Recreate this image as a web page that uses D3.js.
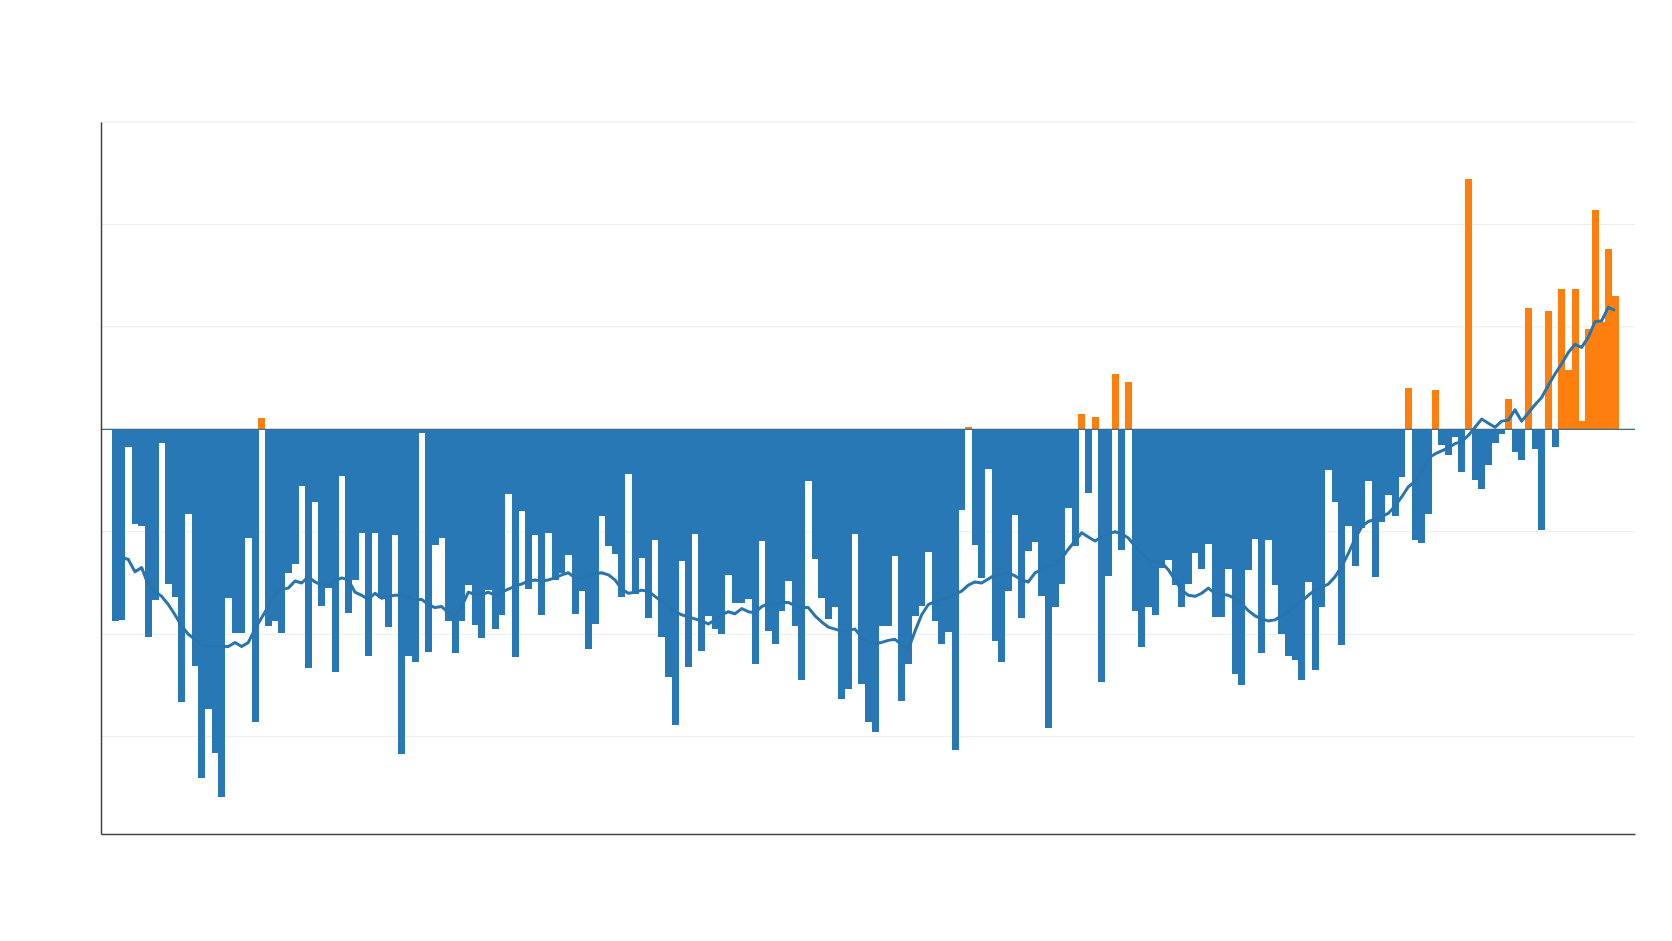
<!DOCTYPE html>
<html>
<head>
<meta charset="utf-8">
<script src="https://cdn.jsdelivr.net/npm/d3@7"></script>
<style>
    body { margin: 0; background: #ffffff; }
    svg { display: block; }
</style>
</head>
<body>
<svg id="anomaly-chart"></svg>
<script>
// one bar per year (no labels shown on the chart)
const years = d3.range(1798, 2024);

// yearly anomaly
const anomalies = [
    -1.87, -1.86, -0.17, -0.92, -0.94, -2.03, -1.67, -0.13, -1.51, -1.64,
    -2.66, -0.83, -2.31, -3.40, -2.73, -3.16, -3.59, -1.65, -1.99, -1.99,
    -1.06, -2.86, 0.11, -1.92, -1.87, -1.99, -1.40, -1.31, -0.55, -2.33,
    -0.71, -1.72, -1.55, -2.37, -0.46, -1.79, -1.47, -1.01, -2.21, -1.01,
    -1.65, -1.93, -1.03, -3.17, -2.21, -2.27, -0.04, -2.17, -1.13, -1.06,
    -1.87, -2.18, -1.87, -1.52, -1.91, -2.04, -1.57, -1.95, -1.81, -0.63,
    -2.22, -0.80, -1.56, -1.03, -1.81, -1.01, -1.47, -1.40, -1.23, -1.80,
    -1.58, -2.14, -1.90, -0.85, -1.14, -1.22, -1.64, -0.44, -1.61, -1.26,
    -1.84, -1.08, -2.03, -2.42, -2.89, -1.29, -2.32, -1.02, -2.16, -1.82,
    -1.95, -2.00, -1.42, -1.70, -1.70, -1.66, -2.29, -1.09, -1.97, -2.10,
    -1.77, -1.48, -1.92, -2.45, -0.50, -1.27, -1.65, -1.85, -1.73, -2.63,
    -2.53, -1.02, -2.49, -2.86, -2.95, -1.92, -1.92, -1.24, -2.65, -2.29,
    -1.82, -1.72, -1.20, -1.87, -2.10, -1.98, -3.13, -0.79, 0.02, -1.13,
    -1.45, -0.39, -2.07, -2.27, -1.58, -0.84, -1.84, -1.19, -1.10, -1.63,
    -2.92, -1.73, -1.51, -0.77, -1.14, 0.15, -0.62, 0.12, -2.47, -1.43,
    0.54, -1.18, 0.46, -1.77, -2.12, -1.73, -1.81, -1.35, -1.28, -1.52,
    -1.73, -1.51, -1.21, -1.36, -1.12, -1.83, -1.83, -1.36, -2.39, -2.50,
    -1.37, -1.07, -2.18, -1.08, -1.52, -2.00, -2.21, -2.25, -2.45, -1.49,
    -2.35, -1.73, -0.40, -0.71, -2.11, -0.94, -1.33, -0.96, -0.50, -1.44,
    -0.90, -0.64, -0.85, -0.47, 0.40, -1.08, -1.11, -0.83, 0.38, -0.15,
    -0.25, -0.07, -0.42, 2.44, -0.49, -0.58, -0.35, -0.13, -0.05, 0.30,
    -0.22, -0.30, 1.18, -0.19, -0.98, 1.16, -0.17, 1.37, 0.58, 1.37,
    0.08, 0.98, 2.14, 1.05, 1.76, 1.30
];

// smoothed curve, also (no value for the first year)
const smoothed = [
    null, -1.25, -1.27, -1.39, -1.35, -1.52, -1.58, -1.63, -1.71, -1.81,
    -1.92, -2.00, -2.05, -2.10, -2.12, -2.12, -2.12, -2.12, -2.08, -2.12,
    -2.08, -1.95, -1.84, -1.73, -1.61, -1.56, -1.55, -1.48, -1.50, -1.44,
    -1.49, -1.52, -1.52, -1.48, -1.45, -1.47, -1.59, -1.62, -1.66, -1.60,
    -1.65, -1.63, -1.62, -1.62, -1.64, -1.66, -1.66, -1.71, -1.74, -1.73,
    -1.79, -1.82, -1.73, -1.59, -1.61, -1.61, -1.59, -1.62, -1.59, -1.56,
    -1.53, -1.51, -1.48, -1.47, -1.48, -1.47, -1.45, -1.42, -1.40, -1.45,
    -1.45, -1.44, -1.41, -1.40, -1.42, -1.47, -1.56, -1.60, -1.59, -1.57,
    -1.58, -1.63, -1.68, -1.73, -1.78, -1.81, -1.83, -1.85, -1.87, -1.90,
    -1.86, -1.81, -1.78, -1.80, -1.75, -1.78, -1.79, -1.73, -1.70, -1.71,
    -1.69, -1.69, -1.72, -1.74, -1.74, -1.82, -1.88, -1.93, -1.95, -1.97,
    -1.96, -1.95, -2.03, -2.08, -2.09, -2.08, -2.06, -2.05, -2.10, -2.15,
    -1.97, -1.81, -1.71, -1.68, -1.66, -1.64, -1.61, -1.58, -1.52, -1.49,
    -1.50, -1.46, -1.42, -1.41, -1.40, -1.43, -1.47, -1.49, -1.40, -1.37,
    -1.34, -1.31, -1.26, -1.17, -1.09, -1.01, -1.05, -1.09, -1.05, -1.02,
    -1.00, -1.02, -1.06, -1.14, -1.21, -1.27, -1.29, -1.30, -1.37, -1.47,
    -1.57, -1.62, -1.63, -1.60, -1.55, -1.60, -1.61, -1.62, -1.65, -1.70,
    -1.77, -1.82, -1.85, -1.87, -1.86, -1.82, -1.78, -1.73, -1.68, -1.62,
    -1.57, -1.54, -1.51, -1.44, -1.34, -1.21, -1.07, -0.95, -0.90, -0.88,
    -0.85, -0.82, -0.75, -0.66, -0.56, -0.51, -0.41, -0.28, -0.24, -0.21,
    -0.18, -0.14, -0.12, -0.06, 0.02, 0.10, 0.06, 0.02, 0.08, 0.09,
    0.19, 0.08, 0.16, 0.24, 0.31, 0.43, 0.54, 0.64, 0.75, 0.83,
    0.80, 0.90, 1.05, 1.06, 1.19, 1.16
];

const gridValues = [-3, -2, -1, 1, 2, 3];

const width = 1672;
const height = 941;
const plotLeft = 101, plotRight = 1635, plotTop = 122, plotBottom = 834;

const blue = "#2878b5";
const orange = "#ff7f0e";

const svg = d3.select("#anomaly-chart")
    .attr("width", width)
    .attr("height", height);

const data = years.map(function (y, i) {
    return { year: y, value: anomalies[i], smooth: smoothed[i] };
});

const xScale = d3.scaleBand()
    .domain(years)
    .range([plotLeft, plotRight])
    .paddingInner(0)
    .paddingOuter(2.05)
    .align(0.39);

const yScale = d3.scaleLinear()
    .domain([-3.95, 3])
    .range([plotBottom, plotTop]);

// light grid
svg.append("g")
    .selectAll("line")
    .data(gridValues)
    .join("line")
    .attr("x1", plotLeft)
    .attr("x2", plotRight)
    .attr("y1", function (d) { return yScale(d); })
    .attr("y2", function (d) { return yScale(d); })
    .attr("stroke", "#ececec")
    .attr("stroke-width", 1);

// bars
svg.append("g")
    .attr("shape-rendering", "crispEdges")
    .selectAll("rect")
    .data(data)
    .join("rect")
    .attr("x", function (d) { return xScale(d.year); })
    .attr("width", xScale.bandwidth() + 0.4)
    .attr("y", function (d) { return yScale(Math.max(0, d.value)); })
    .attr("height", function (d) { return Math.abs(yScale(d.value) - yScale(0)); })
    .attr("fill", function (d) { return d.value >= 0 ? orange : blue; });

// smoothed line
const line = d3.line()
    .defined(function (d) { return d.smooth !== null; })
    .x(function (d) { return xScale(d.year) + xScale.bandwidth() / 2; })
    .y(function (d) { return yScale(d.smooth); });

svg.append("path")
    .datum(data)
    .attr("d", line)
    .attr("fill", "none")
    .attr("stroke", "#2a74ae")
    .attr("stroke-width", 3)
    .attr("stroke-linejoin", "round");

// zero line
svg.append("line")
    .attr("x1", plotLeft)
    .attr("x2", plotRight)
    .attr("y1", yScale(0))
    .attr("y2", yScale(0))
    .attr("stroke", "#3c6b8c")
    .attr("stroke-width", 1.2);

// axes without ticks or labels
svg.append("g")
    .attr("transform", `translate(${plotLeft}, 0)`)
    .call(d3.axisLeft(yScale).tickValues([]).tickSizeOuter(0))
    .select(".domain")
    .attr("stroke", "#444")
    .attr("stroke-width", 1.5);

svg.append("g")
    .attr("transform", `translate(0, ${plotBottom})`)
    .call(d3.axisBottom(xScale).tickValues([]).tickSizeOuter(0))
    .select(".domain")
    .attr("stroke", "#444")
    .attr("stroke-width", 1.5);
</script>
</body>
</html>
